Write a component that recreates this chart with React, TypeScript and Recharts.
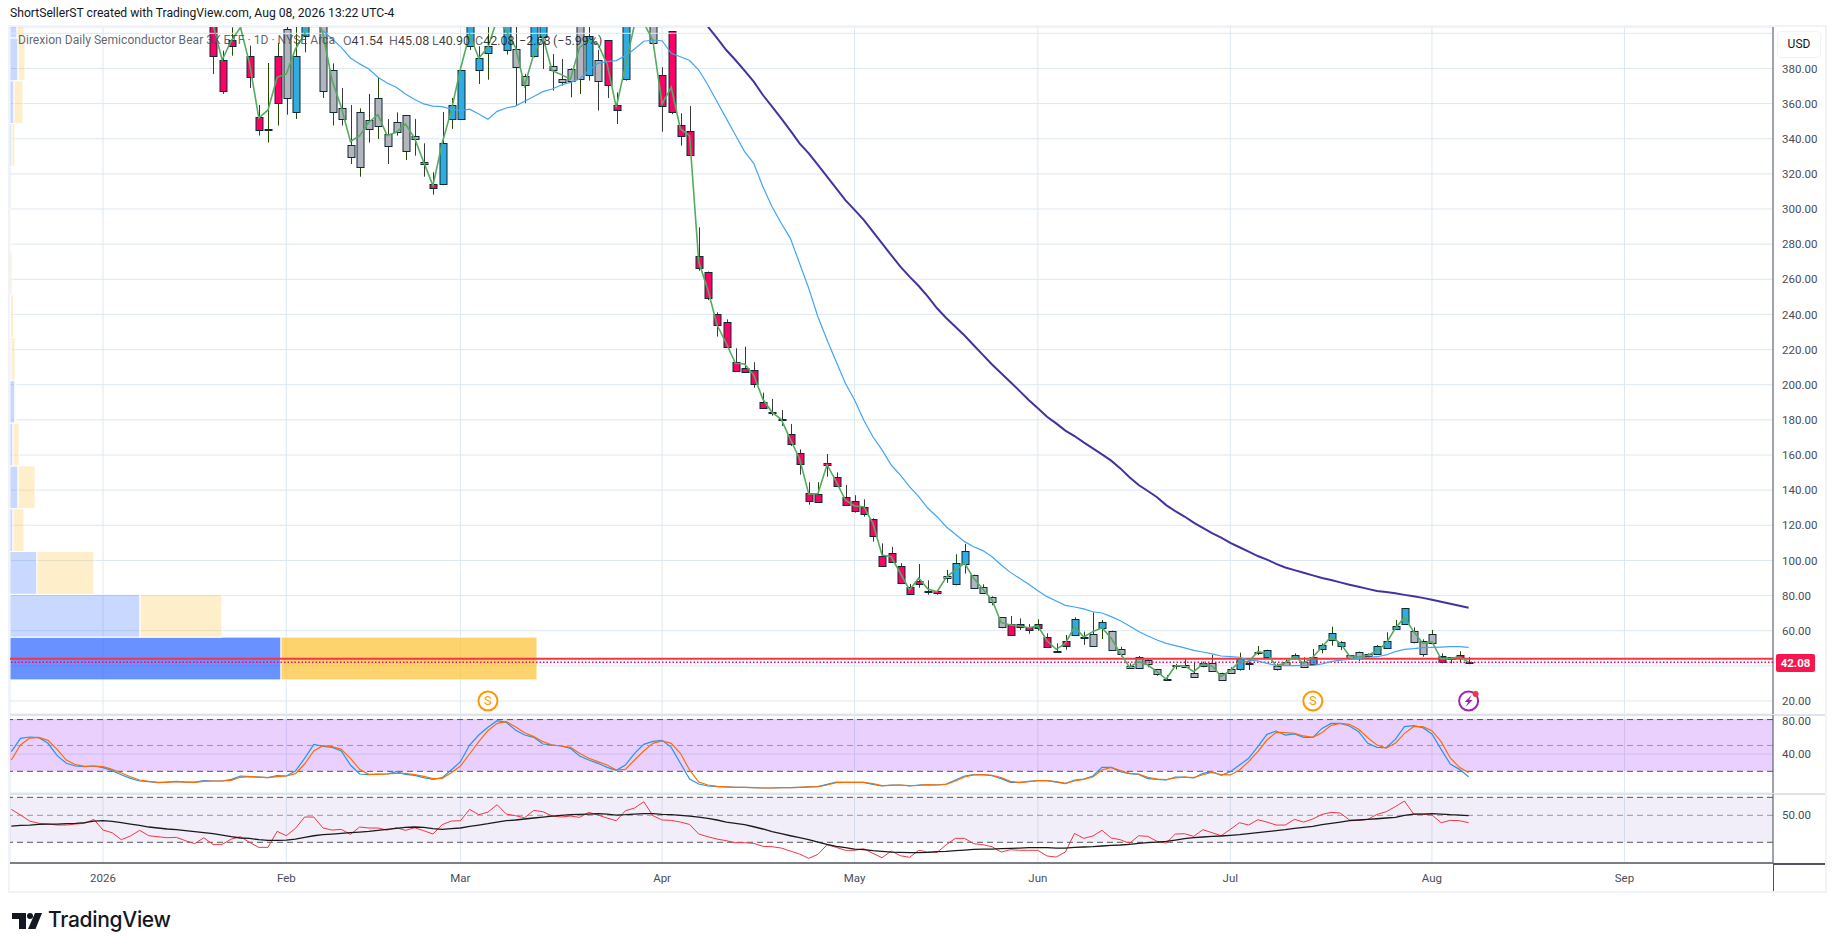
import React from "react";
import {
  Bar,
  CartesianGrid,
  ComposedChart,
  Line,
  ReferenceArea,
  ReferenceDot,
  ReferenceLine,
  XAxis,
  YAxis,
} from "recharts";

// bar index 0 is Jan 2 2026, trading days only
const monthTicks = [0, 20, 39, 61, 82, 102, 123, 145, 166];
const monthLabels = ["2026", "Feb", "Mar", "Apr", "May", "Jun", "Jul", "Aug", "Sep"];
const priceTicks = [20, 40, 60, 80, 100, 120, 140, 160, 180, 200, 220, 240, 260, 280, 300, 320, 340, 360, 380];

// candles start at bar 12, everything before is above the visible range
const candleStart = 12;
const candleTones = (
  "pppgppgpgb" + "bggggggggg" + "gggbpbbbbb" + "bgbggbbggg" + "gbgppbgggp" +
  "pppppppppp" + "pppppppppp" + "pppppppppp" + "gbbggggppp" + "ppppbggbgg" +
  "ggggggggbg" + "ggbggbggbg" + "bbbbgggbbb" + "bgggpppg"
).split("");

const bodyTops = [
  430, 384.6, 396.4, 420, 386.9, 352.2, 345.6, 386.9, 402.3, 386.9,
  430, 440, 430, 378.9, 357.3, 336.3, 355, 350.5, 363, 342.5,
  349.4, 353.3, 341.4, 326.6, 314.1, 337.4, 359, 378.9, 420, 385.8,
  393, 425, 420, 390.9, 375.5, 420, 420, 381.2, 373.8, 379.5,
  420, 398.7, 384.6, 396, 359, 420, 430, 430, 420, 376.1,
  401.1, 347.6, 344.2, 273.5, 264.4, 240.5, 235.9, 213.1, 209.7, 208.6,
  190, 184.6, 180.6, 171.8, 161.3, 138.2, 138, 155.3, 147.3, 136.3,
  134, 130.6, 123.4, 102.7, 104.4, 97, 85.1, 88.1, 82.6, 82.8,
  91, 98.4, 105.2, 91.5, 85.1, 79, 67.6, 64, 63.6, 62.3,
  64, 56.6, 48.5, 54.3, 66.9, 56.7, 58.3, 64.8, 60, 49.4,
  39.9, 45.2, 43.5, 38, 32.6, 40.4, 40.5, 35.7, 41.8, 41.4,
  36.1, 38, 44.7, 41.4, 48.1, 49.2, 40.1, 42.4, 46, 42.4,
  45.2, 51.7, 58.5, 53.4, 46, 48.1, 46.6, 51.1, 54.3, 62.5,
  72.7, 59.7, 54, 57.9, 45.8, 44.9, 46.4, 42.3,
];
const bodyBottoms = [
  386.9, 367, 392.6, 410, 375, 345.2, 345.2, 360.2, 363, 355,
  398.3, 420, 367, 355, 351.1, 329.4, 323.7, 345.4, 347.1, 335.7,
  343.7, 333.2, 339.7, 325.4, 311.8, 314.1, 351.1, 351.1, 392.6, 378.9,
  388.6, 410, 390.3, 380.7, 370.4, 387.3, 397.7, 378.9, 372.1, 373.1,
  373.8, 376.1, 373.1, 370.4, 356.2, 373.8, 415, 415, 394.3, 358.5,
  355, 341.4, 330.6, 266.3, 249.2, 233.8, 221.3, 207.6, 207.1, 200.2,
  186.6, 184, 180, 166.1, 154.7, 133.6, 133.1, 154.1, 142.2, 131.4,
  127.9, 126.2, 113.7, 96.6, 98.9, 87, 80.7, 86.4, 82, 81.3,
  89.8, 86.4, 97.8, 84.1, 81.7, 76.2, 61.9, 57.4, 61.9, 60.2,
  61.4, 50.5, 48, 51.1, 57.4, 56.2, 51.5, 61.4, 48.8, 46.6,
  38.6, 39, 40.9, 35.2, 32, 40, 39.5, 33.5, 39.7, 36.9,
  31.8, 35.9, 38, 41, 47.7, 44.9, 38.4, 40.3, 44.3, 39.2,
  40.9, 49.4, 54.5, 51.1, 44.7, 44.3, 45.4, 46.9, 50, 60.8,
  63.6, 53.4, 46.6, 52.8, 42, 43.7, 44.3, 41.9,
];
const wickTops = [
  440, 390.1, 403.4, 430, 393, 359.2, 383.1, 394.5, 420, 420,
  440, 450, 440, 382.9, 368.9, 359.2, 357.3, 365.5, 375.1, 351.2,
  355, 353.3, 351.2, 337.4, 320.9, 355.2, 363.2, 378.9, 430, 392.6,
  403.6, 430, 430, 420, 376.9, 430, 430, 388.2, 385.4, 380.1,
  430, 420, 390.5, 396, 366.4, 430, 440, 440, 430, 380.7,
  401.1, 354.5, 358.6, 289.6, 264.4, 241.2, 237.2, 220.7, 221.7, 212.8,
  195.5, 191.9, 185.6, 177.7, 163.2, 144.5, 144.5, 160.6, 150.1, 142.9,
  137.1, 134.8, 124, 109.7, 107.7, 98.4, 86.6, 98, 88.7, 82.8,
  94.6, 103.5, 109.4, 91.9, 86.4, 79.6, 67.6, 68.4, 67, 63.8,
  66.5, 58.5, 52.8, 57.6, 67.6, 59.5, 70.5, 66.1, 60, 50.9,
  41.4, 45.6, 43.9, 38, 34.8, 41.1, 43.9, 42, 42.4, 46.2,
  36.1, 39.2, 47.5, 44.3, 51.3, 49.2, 41.4, 43.7, 47.1, 44.9,
  49.6, 52.8, 62.3, 54.1, 46, 48.1, 47.1, 51.9, 59.1, 66.1,
  72.7, 61.9, 55.1, 60.4, 47.1, 44.9, 48.3, 45.08,
];
const wickBottoms = [
  376.9, 365.5, 387.3, 403.6, 368.9, 341.8, 337.8, 347.5, 353.7, 351.2,
  389.2, 410, 363.2, 347.5, 347.5, 325.6, 318.4, 337.8, 339.9, 325.6,
  341.8, 327.9, 330.4, 318.4, 308.2, 313.6, 345.6, 351.1, 390.5, 371.2,
  373.6, 405, 387.9, 358.8, 360.2, 386.3, 379.7, 367.4, 370.2, 363.6,
  365.5, 373.1, 356, 363.2, 348.4, 373.1, 410, 410, 391.8, 344,
  354, 336.1, 330.6, 264.9, 248.2, 227.4, 221.3, 207.6, 207.1, 198.3,
  186.6, 182.4, 176.5, 165.1, 148.8, 131.7, 133.1, 147.7, 142.2, 131.4,
  127.2, 124.9, 110.7, 96.6, 98.9, 87, 80.7, 84.5, 80.5, 80.5,
  87.3, 85.8, 92.5, 83.9, 80.9, 74.5, 61.4, 57.4, 60.4, 58.3,
  60, 50.5, 47.7, 49.2, 57.4, 51.9, 50.9, 55.3, 48.8, 45.2,
  38.6, 38.6, 39.2, 34.4, 32, 38, 39.2, 33.5, 39.2, 36.9,
  31.8, 35.4, 37.3, 37.6, 46.2, 44.9, 37.3, 40.1, 43.7, 39.2,
  40.9, 47.1, 51.5, 49, 44.7, 42.8, 44.9, 46.2, 50, 60.4,
  63.6, 52.8, 45.2, 52.4, 41.4, 41.4, 42.2, 40.9,
];
// the thin green close line
const closeLine = [
  405, 384.8, 395.8, 403.4, 382.6, 351.8, 356.4, 375, 376.9, 391.1,
  399.6, 415, 399.6, 373.1, 357.9, 338.5, 341.8, 349.4, 353.7, 341.8,
  343.7, 348.4, 340.2, 326.6, 313.3, 337.4, 356, 379.7, 399.6, 385.8,
  392, 408, 401.5, 392, 370.2, 388.2, 397.7, 378.8, 376.5, 374,
  392, 395.8, 393.9, 382.6, 357.9, 381.6, 405.3, 406, 395.8, 359.8,
  369.3, 345.6, 341.8, 270, 253.9, 234, 223.6, 212.2, 211.8, 205.5,
  191.7, 184.3, 180.3, 168.9, 157.9, 137.8, 138, 154.5, 144.8, 134.4,
  131, 130.6, 121.1, 103.1, 102.1, 92.7, 83.2, 90, 83.7, 82.2,
  90.4, 94.6, 98.4, 89.8, 83.6, 77.5, 64.6, 63.3, 62.7, 61.7,
  62.7, 54.3, 49.4, 52.8, 62.3, 56.4, 59.5, 61.7, 55.7, 47.1,
  39.2, 42.4, 40.5, 36.7, 32.5, 40.1, 40.1, 36.7, 41.1, 39.9,
  34, 37.3, 42.4, 42.4, 48.1, 47.1, 39.9, 41.8, 45.2, 41.4,
  44.9, 50.7, 56.6, 52.8, 45.6, 45.2, 46, 48.6, 52.8, 61.4,
  67.6, 59.5, 52.8, 53.8, 43.9, 44.3, 45.2, 42.08,
];

const fastMaStart = 24;
const fastMa = [
  401.5, 396.8, 392, 386, 382.6, 379.7, 375, 371.7, 369.3, 365.5,
  362.3, 359.8, 358.6, 358.3, 356.8, 356, 356.8, 354.1, 351.1, 355.6,
  357.5, 358.6, 361.3, 364, 366.8, 368.3, 370.6, 372.1, 374, 378.8,
  382.9, 383.9, 384.5, 387.3, 391.1, 395.5, 396.2, 395.8, 388.6, 386.7,
  384.5, 379.1, 370.6, 361.1, 351.6, 342.1, 332.7, 326, 312.7, 301.3,
  291.9, 283.3, 269.1, 254.9, 238.7, 225.5, 213.1, 200.8, 191.3, 179.9,
  170.4, 162.9, 154.3, 148.6, 142, 136.3, 129.7, 124.9, 119.2, 114.9,
  110.7, 107.8, 105.6, 102.1, 97.4, 93.2, 89.8, 86.4, 82.8, 79.4,
  76.9, 74.4, 73.5, 72.4, 70.8, 70.1, 68, 65.7, 62.7, 59.5,
  57, 54.7, 52.8, 51.5, 50.2, 48.8, 47.9, 46.8, 45.6, 45.2,
  44.9, 43.3, 42.8, 41.4, 40.3, 40.1, 40.1, 40.3, 40.3, 41.1,
  42.4, 43.3, 43.7, 44.3, 44.9, 45.2, 46.2, 48.1, 49.4, 49.8,
  50.4, 50.5, 50.7, 50.9, 50.9, 50.5,
];
const slowMaStart = 66;
const slowMa = [
  403.8, 397.2, 390.5, 384.8, 378.8, 372.5, 364.9, 358.3, 351.6, 344.6,
  337.4, 331.7, 325.1, 318.4, 311.8, 305.1, 299.5, 293.8, 287.1, 280.5,
  273.8, 267.2, 261.5, 256.2, 250.1, 243.5, 238, 233, 228, 222.5,
  217, 211.5, 206.5, 201.5, 196.5, 191.3, 186.6, 181.8, 178, 173.9,
  170.8, 167.2, 163.8, 160.4, 156.8, 152.4, 147.3, 142.9, 139.5, 136,
  131.5, 128, 125, 121.5, 118.5, 115.5, 113, 110, 107.5, 105,
  102.5, 100.5, 98, 96, 94.5, 93, 91.5, 90, 88.9, 87.5,
  86.2, 85, 83.8, 82.6, 82, 81.3, 80.4, 79.6, 78.7, 77.6,
  76.5, 75.4, 74.2, 73.1,
];

// volume profile rows, bottom row first
const profileBottom = 32;
const profileStep = 24.36;
const profileUp = [271, 130, 27, 3, 8, 3, 5, 1, 0.5, 0, 0, 0, 2, 4, 8, 7];
const profileDown = [256, 82, 57, 11, 17, 6, 1, 4, 3, 2, 1, 0, 3, 9, 7, 7];

// lower panes start at bar -10
const paneStart = -10;
const stochK = [
  42.8, 58.2, 59.8, 59, 52.5, 38.2, 29.3, 26.2, 25.4, 26.2,
  24.3, 20.8, 16.1, 11.9, 8.8, 8, 6.9, 7.6, 8.4, 7.6,
  7.6, 9.2, 8.8, 8.8, 10.7, 14.6, 13.8, 13.4, 12.7, 15,
  14.6, 20.4, 35.1, 51.3, 49, 47.8, 43.6, 27.3, 16.9, 16.1,
  16.9, 16.9, 19.6, 16.5, 15.4, 12.7, 10.7, 12.7, 21.6, 31.2,
  50.5, 62.1, 71, 78.7, 76.8, 67.9, 62.1, 59.4, 51.7, 50.5,
  49.4, 46.7, 37.8, 33.1, 29.3, 24.6, 21.2, 27.3, 40.9, 51.3,
  54.8, 55.9, 47.8, 29.3, 11.1, 5.3, 3, 2.2, 1.9, 1.5,
  1.5, 1.1, 0.7, 0.7, 1.1, 1.1, 1.5, 1.9, 2.2, 4.9,
  7.6, 7.3, 7.3, 7.3, 4.9, 3, 4.2, 4.2, 3, 4.2,
  4.6, 4.2, 5.3, 10, 14.6, 16.1, 16.1, 15, 11.5, 7.3,
  7.3, 8.4, 9.2, 9.2, 7.6, 5.7, 10, 11.1, 14.6, 24.6,
  24.6, 19.6, 17.3, 16.5, 11.5, 10.7, 10, 13.4, 13.4, 12.3,
  17.7, 19.6, 15.4, 19.6, 27.3, 35.1, 48.6, 62.9, 66.7, 62.1,
  63.3, 59.4, 59.4, 69.8, 75.6, 75.6, 72.5, 66, 52.5, 47.8,
  47.4, 57.1, 71.8, 72.9, 70.6, 63.3, 45.5, 28.5, 22.3, 13.8,
];
const stochD = [
  33.1, 50.5, 58.6, 59.4, 55.9, 45.5, 33.1, 27.7, 25.8, 26.2,
  25.4, 22.3, 18.1, 13.8, 10, 8.4, 7.3, 7.3, 8, 7.6,
  7.3, 8.4, 8.8, 8.8, 9.6, 13.1, 13.8, 13.4, 12.7, 13.8,
  14.6, 17.3, 28.5, 43.6, 49.7, 48.6, 45.5, 35.1, 22.3, 16.5,
  16.5, 16.9, 17.7, 17.7, 16.1, 14.2, 11.5, 11.9, 18.5, 26.2,
  40.1, 54.4, 67.1, 75.6, 77.6, 71.8, 64.8, 60.2, 54.4, 50.5,
  49.4, 47.8, 40.9, 35.1, 31.2, 27.3, 21.6, 22.3, 33.1, 43.6,
  52.5, 55.2, 52.5, 40.9, 21.6, 7.6, 4.2, 2.6, 1.9, 1.5,
  1.5, 1.1, 0.7, 0.7, 1.1, 1.1, 1.5, 1.9, 2.2, 4.2,
  6.9, 7.3, 7.3, 7.3, 5.7, 3.4, 3.8, 4.2, 3.4, 3.8,
  4.6, 4.2, 4.9, 8.8, 13.4, 15.8, 16.1, 15.4, 12.7, 8.4,
  6.9, 8, 9.2, 9.2, 8, 6.1, 8.8, 10.7, 13.4, 21.6,
  24.6, 20.8, 17.7, 16.9, 13.1, 11.1, 10.4, 12.3, 13.4, 12.7,
  16.1, 18.8, 16.1, 15.8, 21.6, 31.2, 42.8, 56.3, 65.2, 64.8,
  64, 61, 59.4, 64.8, 73.3, 75.6, 74.5, 68.7, 59, 50.5,
  47, 52.5, 64, 71.8, 71.8, 67.1, 54.4, 35.5, 24.6, 18.5,
];
const rsiValues = [
  56.6, 50.3, 43.6, 41.1, 40.3, 39.2, 39.2, 40.3, 41.1, 45.5,
  33.6, 30.7, 22.9, 27, 33.3, 27.3, 26.2, 25.1, 25.5, 21.8,
  18.5, 25.1, 17.7, 17.7, 23.6, 26.2, 19.9, 14.4, 14.4, 32.2,
  27.3, 35.5, 48.1, 48.1, 35.9, 33.6, 34.4, 28.8, 37, 35.9,
  35.9, 33.6, 36.2, 33.3, 36.2, 32.9, 29.2, 39.6, 43.6, 44,
  56.6, 50.7, 53.6, 61.8, 51.4, 49.6, 47.3, 55.5, 54, 49.2,
  48.1, 49.2, 47.7, 53.3, 50.3, 47, 44, 55.1, 58.1, 65.1,
  49.6, 44.8, 44.4, 42.5, 39.9, 29.2, 26.2, 23.6, 21.8, 19.6,
  19.6, 18.8, 15.5, 15.1, 13.6, 10.3, 7, 2.2, 6.6, 17.3,
  14.4, 11.1, 11.1, 12.9, 7.7, 2.9, 10.3, 5.1, 3.3, 11.1,
  9.2, 8.8, 17.3, 24.4, 24.4, 18.5, 17.3, 15.1, 9.2, 11.8,
  11.1, 11.1, 11.1, 4.8, 3.6, 9.2, 29.9, 24.4, 27, 33.3,
  24.8, 22.9, 18.8, 27.3, 26.6, 21.1, 19.2, 29.2, 29.6, 26.6,
  34, 30.7, 27.3, 34.4, 41.8, 39.2, 45.1, 42.5, 39.2, 39.2,
  45.5, 42.5, 45.9, 51, 53.3, 52.5, 44.8, 44.4, 45.5, 51,
  54, 59.6, 65.9, 51.4, 51.4, 50.3, 41.8, 44.4, 44, 41.8,
];
const rsiAverage = [
  38.1, 38.8, 39.2, 39.9, 40.3, 40.3, 40.7, 41.1, 41.8, 43.6,
  44, 43.3, 41.8, 40.3, 38.8, 37, 35.9, 34.8, 34, 32.9,
  31.8, 30.7, 29.6, 28.1, 26.2, 24.8, 24.4, 22.9, 22.2, 22.2,
  22.5, 23.6, 25.5, 27.3, 28.5, 29.2, 29.9, 30.7, 31.4, 32.2,
  33.3, 34.4, 35.5, 36.6, 37, 36.6, 35.1, 34.4, 35.1, 35.9,
  37.7, 39.2, 40.7, 42.5, 44, 44.8, 45.9, 47, 48.1, 49.2,
  49.9, 50.7, 51, 51.4, 51.8, 51.4, 50.3, 50.7, 51.4, 51.8,
  51.8, 51, 50.7, 49.9, 49.2, 48.1, 46.6, 44.8, 42.5, 41.1,
  39.6, 37.3, 34.8, 31.8, 29.6, 27.3, 25.1, 22.9, 20.3, 17.7,
  15.5, 14, 12.5, 11.8, 10.7, 9.9, 9.2, 8.8, 8.5, 8.5,
  8.8, 9.6, 9.9, 10.7, 11.4, 12.2, 12.5, 12.5, 12.9, 13.3,
  13.6, 14, 14, 14, 13.6, 13.6, 14.4, 14.8, 15.1, 15.9,
  16.6, 17, 17.7, 18.8, 19.6, 20.3, 21.1, 22.5, 24, 25.1,
  25.9, 26.6, 27, 27.7, 28.5, 29.6, 30.7, 31.8, 32.9, 34,
  35.5, 36.6, 37.7, 39.6, 41.1, 42.5, 44, 44.8, 45.5, 46.2,
  47, 47.7, 49.9, 51.4, 51.4, 51.8, 51.4, 50.7, 50.3, 49.6,
];

const lastClose = 42.08;
const resistance = 44;
const signalBars = [42, 132];
const boltBar = 149;

const FONT = "Roboto, sans-serif";
const GRID = "#dde8f0";
const AXIS_LINE = "#50535e";
const AXIS_TEXT = "#4a4d57";
const xDomain: [number, number] = [-10.147, 182.21];
const toneFill: Record<string, string> = { p: "#ff0066", b: "#2fade3", g: "#b2b5be" };

const candleRows = bodyTops.map((top, n) => {
  const idx = candleStart + n;
  const slow = idx - slowMaStart;
  const fast = idx - fastMaStart;
  return {
    idx,
    bodyTop: top,
    bodyBottom: bodyBottoms[n],
    wickTop: wickTops[n],
    wickBottom: wickBottoms[n],
    tone: candleTones[n],
    close: closeLine[n],
    rising: n > 0 && closeLine[n] >= closeLine[n - 1],
    fast: fast >= 0 ? fastMa[fast] : null,
    slow: slow >= 0 ? slowMa[slow] : null,
  };
});
const stochRows = stochK.map((k, n) => ({ idx: paneStart + n, k, d: stochD[n] }));
const rsiRows = rsiValues.map((rsi, n) => ({ idx: paneStart + n, rsi, avg: rsiAverage[n] }));

const Candle = (props: any) => {
  const { x, y, width, height, payload } = props;
  const span = payload.wickTop - payload.wickBottom;
  const perUnit = span > 0 ? height / span : 0;
  // snap to whole pixels so the outlines stay sharp
  const cx = Math.round(x + width / 2) + 0.5;
  const bodyTopY = Math.round(y + (payload.wickTop - payload.bodyTop) * perUnit) + 0.5;
  const bodyBottomY = Math.round(y + (payload.wickTop - payload.bodyBottom) * perUnit) + 0.5;
  const bodyH = Math.max(bodyBottomY - bodyTopY, 1);
  return (
    <g>
      <line x1={cx} x2={cx} y1={y} y2={y + height} stroke={payload.rising ? "#234a00" : "#3a3a3a"} strokeWidth={1} />
      <rect x={cx - 3.5} y={bodyTopY} width={7} height={bodyH} fill={toneFill[payload.tone]} stroke="#0f2a33" strokeWidth={1} />
    </g>
  );
};

const SignalIcon = (props: any) => (
  <g>
    <circle cx={props.cx} cy={props.cy} r={9.5} fill="#fff" stroke="#ff9800" strokeWidth={2} />
    <text x={props.cx} y={props.cy + 4.5} textAnchor="middle" fontSize={13} fontFamily={FONT} fill="#ff9800">S</text>
  </g>
);

const BoltIcon = (props: any) => {
  const { cx, cy } = props;
  return (
    <g>
      <circle cx={cx} cy={cy} r={9.5} fill="#fff" stroke="#9c27b0" strokeWidth={2} />
      <path d={`M${cx + 3} ${cy - 6} L${cx - 4} ${cy + 1} L${cx - 0.5} ${cy + 1} L${cx - 3} ${cy + 6} L${cx + 4} ${cy - 1} L${cx + 0.5} ${cy - 1} Z`} fill="#9c27b0" />
      <circle cx={cx + 7} cy={cy - 7} r={3} fill="#f23645" />
    </g>
  );
};

const abs = (left: number, top: number, extra: React.CSSProperties = {}): React.CSSProperties => ({
  position: "absolute",
  left,
  top,
  fontFamily: FONT,
  whiteSpace: "nowrap",
  ...extra,
});

const axisTick = { fill: AXIS_TEXT, fontSize: 11.5, fontFamily: FONT };

export default function App() {
  return (
    <div style={{ position: "absolute", left: 0, top: 0, width: 1835, height: 951, background: "#fff", overflow: "hidden" }}>
      <div style={abs(10, 6, { fontSize: 12.15, color: "#131722" })}>
        ShortSellerST created with TradingView.com, Aug 08, 2026 13:22 UTC-4
      </div>

      {/* frame */}
      <div style={{ position: "absolute", left: 8, top: 25, width: 1815, height: 864, border: "2px solid #f0f3fa" }} />

      {/* price pane */}
      <div style={{ position: "absolute", left: 10, top: 27 }}>
        <ComposedChart width={1815} height={687} data={candleRows} margin={{ top: 0, right: 0, bottom: 0, left: 0 }}>
          <CartesianGrid stroke={GRID} strokeWidth={1} />
          <XAxis xAxisId={0} type="number" dataKey="idx" domain={xDomain} ticks={monthTicks} allowDataOverflow hide />
          <XAxis xAxisId="profile" type="number" dataKey="idx" domain={[0, 1763]} allowDataOverflow hide />
          <YAxis
            orientation="right"
            width={52}
            domain={[12.6, 403.6]}
            ticks={priceTicks}
            allowDataOverflow
            tickLine={false}
            tickMargin={3}
            axisLine={{ stroke: AXIS_LINE }}
            tick={axisTick}
            tickFormatter={(v: number) => (v === 40 ? "" : v.toFixed(2))}
          />
          <ReferenceLine y={400} stroke={GRID} />
          {profileUp.map((up, k) => {
            const low = profileBottom + k * profileStep;
            const strong = k === 0;
            return (
              <React.Fragment key={k}>
                {up > 0 && (
                  <ReferenceArea xAxisId="profile" x1={0} x2={up} y1={low} y2={low + profileStep} ifOverflow="hidden"
                    fill="#2962ff" fillOpacity={strong ? 0.7 : 0.25} stroke="#fff" strokeWidth={1} />
                )}
                {profileDown[k] > 0 && (
                  <ReferenceArea xAxisId="profile" x1={up} x2={up + profileDown[k]} y1={low} y2={low + profileStep} ifOverflow="hidden"
                    fill="#fbc02d" fillOpacity={strong ? 0.7 : 0.25} stroke="#fff" strokeWidth={1} />
                )}
              </React.Fragment>
            );
          })}
          <ReferenceLine y={resistance} stroke="#f23645" strokeWidth={2} />
          <ReferenceLine y={lastClose} stroke="#ff0066" strokeWidth={1.5} strokeDasharray="1.5 2" />
          <Line dataKey="close" stroke="#55ab5f" strokeWidth={1.6} dot={false} isAnimationActive={false} />
          <Bar dataKey={(d: any) => [d.wickBottom, d.wickTop]} barSize={8} shape={<Candle />} isAnimationActive={false} />
          <Line dataKey="fast" stroke="#42a5f5" strokeWidth={1.2} dot={false} connectNulls={false} isAnimationActive={false} />
          <Line dataKey="slow" stroke="#4332a0" strokeWidth={2} dot={false} connectNulls={false} isAnimationActive={false} />
          {signalBars.map((b) => (
            <ReferenceDot key={b} x={b} y={20} shape={<SignalIcon />} />
          ))}
          <ReferenceDot x={boltBar} y={20} shape={<BoltIcon />} />
        </ComposedChart>
      </div>

      {/* legend sits over the candles */}
      <div style={abs(18, 33, { fontSize: 12.1, color: "rgba(70,74,86,0.85)" })}>
        Direxion Daily Semiconductor Bear 3X ETF · 1D · NYSE Arca
      </div>
      {[
        [343, "O", "41.54"],
        [389, "H", "45.08"],
        [432, "L", "40.90"],
        [475, "C", "42.08"],
      ].map(([left, k, v]) => (
        <div key={k as string} style={abs(left as number, 33, { fontSize: 12.5, color: "rgba(19,23,34,0.85)" })}>
          <span style={{ color: "rgba(70,74,86,0.85)" }}>{k}</span>{v}
        </div>
      ))}
      <div style={abs(519, 33, { fontSize: 12.5, color: "rgba(19,23,34,0.85)" })}>−2.68</div>
      <div style={abs(553, 33, { fontSize: 12.5, color: "rgba(19,23,34,0.85)" })}>(−5.99%)</div>

      {/* USD badge and last price tag */}
      <div style={abs(1777, 31, { width: 42, height: 25, lineHeight: "25px", textAlign: "center", fontSize: 12, color: "#131722", background: "#fff", border: "1px solid #f0f3fa", borderRadius: 4 })}>USD</div>
      <div style={abs(1776, 654, { width: 39, height: 18, lineHeight: "18px", textAlign: "center", fontSize: 11.5, fontWeight: 700, color: "#fff", background: "#f7164f", borderRadius: 2 })}>42.08</div>

      <div style={{ position: "absolute", left: 10, top: 714, width: 1815, height: 1.5, background: "#e0e3eb" }} />
      <div style={{ position: "absolute", left: 10, top: 793, width: 1815, height: 1.5, background: "#e0e3eb" }} />

      {/* stochastic pane */}
      <div style={{ position: "absolute", left: 10, top: 715 }}>
        <ComposedChart width={1815} height={78} data={stochRows} margin={{ top: 0, right: 0, bottom: 0, left: 0 }}>
          <CartesianGrid stroke={GRID} strokeWidth={1} />
          <XAxis type="number" dataKey="idx" domain={xDomain} ticks={monthTicks} allowDataOverflow hide />
          <YAxis orientation="right" width={52} domain={[-5.1, 85.3]} ticks={[0, 40, 80]} allowDataOverflow tickLine={false} tickMargin={3}
            axisLine={{ stroke: AXIS_LINE }} tick={axisTick} tickFormatter={(v: number) => v.toFixed(2)} />
          <ReferenceArea y1={20} y2={80} fill="#9614ff" fillOpacity={0.2} />
          <ReferenceLine y={80} stroke="#555" strokeDasharray="6 4" />
          <ReferenceLine y={50} stroke="#999" strokeDasharray="6 4" />
          <ReferenceLine y={20} stroke="#555" strokeDasharray="6 4" />
          <Line dataKey="k" stroke="#2196f3" strokeWidth={1.2} dot={false} isAnimationActive={false} />
          <Line dataKey="d" stroke="#ff6d00" strokeWidth={1.2} dot={false} isAnimationActive={false} />
        </ComposedChart>
      </div>

      {/* rsi pane carries the time axis */}
      <div style={{ position: "absolute", left: 10, top: 794 }}>
        <ComposedChart width={1815} height={97} data={rsiRows} margin={{ top: 0, right: 0, bottom: 0, left: 0 }}>
          <CartesianGrid stroke={GRID} strokeWidth={1} horizontal={false} />
          <XAxis
            type="number"
            dataKey="idx"
            domain={xDomain}
            ticks={monthTicks}
            allowDataOverflow
            height={28}
            tickLine={false}
            tickMargin={5}
            axisLine={{ stroke: AXIS_LINE, strokeWidth: 1.5 }}
            tick={axisTick}
            interval={0}
            tickFormatter={(v: number) => monthLabels[monthTicks.indexOf(v)]}
          />
          <YAxis orientation="right" width={52} domain={[-3, 73.7]} ticks={[50]} allowDataOverflow tickLine={false} tickMargin={3}
            axisLine={{ stroke: AXIS_LINE }} tick={axisTick} tickFormatter={(v: number) => v.toFixed(2)} />
          <ReferenceArea y1={20} y2={70} fill="#7e57c2" fillOpacity={0.1} />
          <ReferenceLine y={70} stroke="#555" strokeDasharray="6 4" />
          <ReferenceLine y={50} stroke="#999" strokeDasharray="6 4" />
          <ReferenceLine y={20} stroke="#555" strokeDasharray="6 4" />
          <Line dataKey="rsi" stroke="#f23645" strokeWidth={1} dot={false} isAnimationActive={false} />
          <Line dataKey="avg" stroke="#1a1a1a" strokeWidth={1.3} dot={false} isAnimationActive={false} />
        </ComposedChart>
      </div>

      {/* axis lines past the plot corners */}
      <div style={{ position: "absolute", left: 1773, top: 863, width: 52, height: 1.5, background: AXIS_LINE }} />
      <div style={{ position: "absolute", left: 1772.5, top: 863, width: 1, height: 28, background: AXIS_LINE }} />

      {/* TradingView mark */}
      <svg style={{ position: "absolute", left: 12, top: 913 }} width={30} height={16} viewBox="0 0 30 16">
        <path d="M0 0 H14 V16 H7 V6 H0 Z" fill="#131722" />
        <circle cx={18} cy={3} r={3} fill="#131722" />
        <path d="M23 0 H30 L23.5 16 H16 Z" fill="#131722" />
      </svg>
      <div style={abs(48, 907, { fontSize: 21, fontWeight: 500, color: "#131722", letterSpacing: -0.3, fontFamily: "Inter, sans-serif" })}>TradingView</div>
    </div>
  );
}
